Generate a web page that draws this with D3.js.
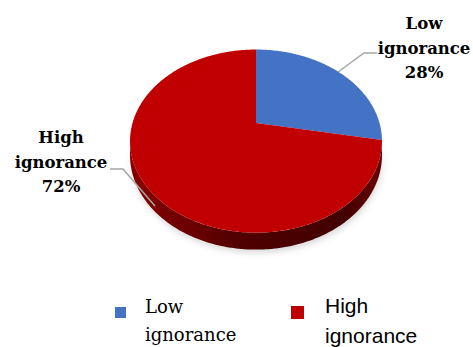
<!DOCTYPE html>
<html>
<head>
<meta charset="utf-8">
<script src="https://cdn.jsdelivr.net/npm/d3@7"></script>
<style>
  body { margin: 0; background: #fff; }
  svg { display: block; }
  .serif { font-family: 'DejaVu Serif', serif; }
  .sans { font-family: 'Liberation Sans', Arial, sans-serif; }
</style>
</head>
<body>
<svg width="473" height="347"></svg>
<script>
// data
const categories = ['Low ignorance', 'High ignorance'];
const values = [28, 72];
const labelLines = [['Low', 'ignorance', '28%'], ['High', 'ignorance', '72%']];
const colors = ['#4472C4', '#C00000'];

const svg = d3.select('svg');

// perspective for the tilted pie
const cx = 256, cy = 123;   // apex
const A = 123.5, B = 88, k = 0.1976, depth = 13.6;

function project(a, drop) {
  // a: d3 pie angle (clockwise from 12 o'clock)
  const t = a - Math.PI / 2;
  const u = Math.cos(t), v = Math.sin(t);
  const w = 1 - k * v;
  return [cx + A * u / w, cy + B * v / w + (drop ? depth / w : 0)];
}

const pie = d3.pie().sort(null).value(d => d)(values);
const line = d3.line();

const defs = svg.append('defs');
defs.append('filter').attr('id', 'blur')
  .attr('x', '-20%').attr('y', '-20%').attr('width', '140%').attr('height', '140%')
  .append('feGaussianBlur').attr('stdDeviation', 3);

const sideGrad = defs.append('linearGradient').attr('id', 'side')
  .attr('x1', '0%').attr('x2', '100%');
sideGrad.append('stop').attr('offset', '0%').attr('stop-color', '#8a0000');
sideGrad.append('stop').attr('offset', '45%').attr('stop-color', '#4f0000');
sideGrad.append('stop').attr('offset', '85%').attr('stop-color', '#420000');
sideGrad.append('stop').attr('offset', '100%').attr('stop-color', '#6a0000');

const s0 = Math.PI / 2 + Math.asin(k);
const s1 = Math.PI * 1.5 - Math.asin(k);
const frontTop = d3.range(s0, s1, 0.01).concat([s1]).map(a => project(a, false));
const frontBot = d3.range(s0, s1, 0.01).concat([s1]).map(a => project(a, true)).reverse();

// shadow
svg.append('path')
  .attr('d', line(frontTop.concat(frontBot)) + 'Z')
  .attr('transform', 'translate(1,3)')
  .attr('fill', '#bdbdbd')
  .attr('opacity', 0.6)
  .attr('filter', 'url(#blur)');

// side wall
svg.append('path')
  .attr('d', line(frontTop.concat(frontBot)) + 'Z')
  .attr('fill', 'url(#side)');

// top face slices
svg.selectAll('path.slice')
  .data(pie)
  .enter()
  .append('path')
  .attr('class', 'slice')
  .attr('d', d => {
    const pts = [[cx, cy]];
    const n = Math.max(2, Math.ceil((d.endAngle - d.startAngle) / 0.01));
    d3.range(n + 1).forEach(i => {
      pts.push(project(d.startAngle + (d.endAngle - d.startAngle) * i / n, false));
    });
    return line(pts) + 'Z';
  })
  .attr('fill', (d, i) => colors[i]);

// leader lines
const leaders = [
  [[338, 72], [364, 53], [377, 53]],
  [[155, 206], [123, 169], [110, 169]]
];
svg.selectAll('path.leader')
  .data(leaders)
  .enter()
  .append('path')
  .attr('class', 'leader')
  .attr('d', d => line(d))
  .attr('fill', 'none')
  .attr('stroke', '#a6a6a6')
  .attr('stroke-width', 1.5);

// data labels
const labelPos = [[424, 29], [61, 143]];
labelLines.forEach((lines, i) => {
  const t = svg.append('text')
    .attr('class', 'serif')
    .attr('text-anchor', 'middle')
    .attr('font-weight', 'bold')
    .attr('font-size', 16.5)
    .attr('fill', '#000');
  lines.forEach((s, j) => {
    t.append('tspan')
      .attr('x', labelPos[i][0])
      .attr('y', labelPos[i][1] + j * 24.5)
      .text(s);
  });
});

// legend
const legendItems = [
  { sq: [115, 307, 11], x: 145, lines: ['Low', 'ignorance'], cls: 'serif', size: 18, gap: 27.5 },
  { sq: [291, 306, 13], x: 325, lines: ['High', 'ignorance'], cls: 'sans', size: 21, gap: 30 }
];
legendItems.forEach((it, i) => {
  svg.append('rect')
    .attr('x', it.sq[0]).attr('y', it.sq[1])
    .attr('width', it.sq[2]).attr('height', it.sq[2])
    .attr('fill', colors[i]);
  const t = svg.append('text')
    .attr('class', it.cls)
    .attr('font-size', it.size)
    .attr('fill', '#000');
  it.lines.forEach((s, j) => {
    t.append('tspan').attr('x', it.x).attr('y', 313 + j * it.gap).text(s);
  });
});
</script>
</body>
</html>
